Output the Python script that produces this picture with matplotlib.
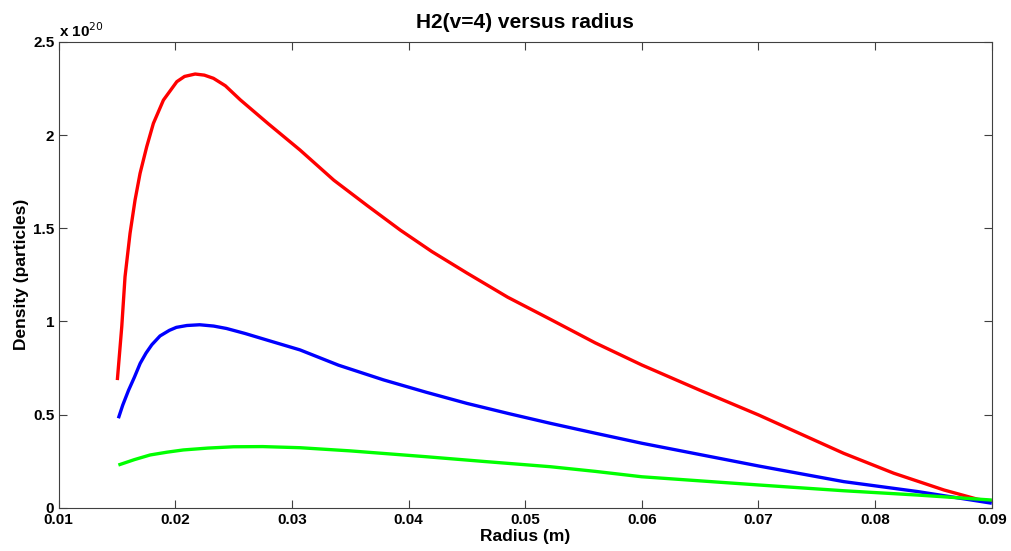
import matplotlib
matplotlib.use("Agg")
import matplotlib.pyplot as plt

# Data (density in units of 1e20 particles)
red_x = [0.01504, 0.01542, 0.0157, 0.01613, 0.01656, 0.01699, 0.01756, 0.01813, 0.01899, 0.02014,
         0.0208, 0.02171, 0.0225, 0.02328, 0.0243, 0.02557, 0.028, 0.0307, 0.0336, 0.0365,
         0.0393, 0.042, 0.045, 0.0485, 0.0522, 0.056, 0.06, 0.065, 0.07, 0.0773,
         0.0816, 0.0859, 0.0888, 0.09]
red_y = [0.685, 0.972, 1.24, 1.473, 1.652, 1.795, 1.938, 2.063, 2.188, 2.287,
         2.315, 2.328, 2.322, 2.305, 2.265, 2.19, 2.06, 1.92, 1.758, 1.62,
         1.49, 1.375, 1.26, 1.13, 1.01, 0.885, 0.766, 0.63, 0.498, 0.292,
         0.185, 0.095, 0.045, 0.035]

blue_x = [0.01513, 0.0155, 0.016, 0.0165, 0.017, 0.0175, 0.018, 0.0187, 0.0195, 0.0201,
          0.021, 0.0221, 0.0233, 0.0244, 0.026, 0.02786, 0.0307, 0.034, 0.03786, 0.0415,
          0.045, 0.0486, 0.05216, 0.056, 0.06, 0.065, 0.07, 0.0773, 0.0836, 0.09]
blue_y = [0.48, 0.55, 0.63, 0.70, 0.775, 0.83, 0.875, 0.922, 0.952, 0.968,
          0.978, 0.982, 0.975, 0.962, 0.935, 0.90, 0.847, 0.765, 0.686, 0.62,
          0.56, 0.505, 0.453, 0.40, 0.346, 0.285, 0.224, 0.14, 0.087, 0.024]

green_x = [0.01513, 0.0165, 0.01785, 0.0193, 0.0207, 0.0228, 0.025, 0.0275, 0.0307, 0.035,
           0.04144, 0.0465, 0.05216, 0.056, 0.06, 0.065, 0.07, 0.0773, 0.0836, 0.09]
green_y = [0.229, 0.258, 0.283, 0.298, 0.31, 0.32, 0.327, 0.328, 0.322, 0.305,
           0.274, 0.248, 0.22, 0.195, 0.166, 0.144, 0.122, 0.091, 0.068, 0.041]

xticks = [0.01, 0.02, 0.03, 0.04, 0.05, 0.06, 0.07, 0.08, 0.09]
xtick_labels = ["0.01", "0.02", "0.03", "0.04", "0.05", "0.06", "0.07", "0.08", "0.09"]
yticks = [0, 0.5, 1, 1.5, 2, 2.5]
ytick_labels = ["0", "0.5", "1", "1.5", "2", "2.5"]

plt.rcParams['font.family'] = ['Liberation Sans', 'DejaVu Sans']

fig = plt.figure(figsize=(10.11, 5.51), dpi=100)
ax = fig.add_axes([0.0579, 0.0786, 0.9231, 0.8452])

kw = dict(lw=2.4, solid_capstyle='butt', solid_joinstyle='round')
ax.plot(red_x, red_y, color=(1, 0, 0), **kw)
ax.plot(blue_x, blue_y, color=(0, 0, 1), **kw)
ax.plot(green_x, green_y, color=(0, 1, 0), **kw)

ax.set_xlim(0.01, 0.09)
ax.set_ylim(0, 2.5)
ax.set_xticks(xticks)
ax.set_xticklabels(xtick_labels, fontweight='bold', fontsize=11)
ax.set_yticks(yticks)
ax.set_yticklabels(ytick_labels, fontweight='bold', fontsize=11)
ax.tick_params(direction='in', top=True, right=True, length=6, width=0.8,
               color='#404040', pad=3)
ax.tick_params(axis='x', pad=4)
for s in ax.spines.values():
    s.set_color('#404040')
    s.set_linewidth(0.8)

ax.set_title("H2(v=4) versus radius", fontsize=15, fontweight='bold', pad=10)
ax.set_xlabel("Radius (m)", fontsize=12.5, fontweight='bold', labelpad=1)
ax.set_ylabel("Density (particles)", fontsize=12.5, fontweight='bold', labelpad=3)

ax.text(0.0, 1.005, r"x 10$^{20}$", transform=ax.transAxes, fontsize=11,
        fontweight='bold', ha='left', va='bottom')

fig.savefig("out.png", dpi=100, facecolor='white')
